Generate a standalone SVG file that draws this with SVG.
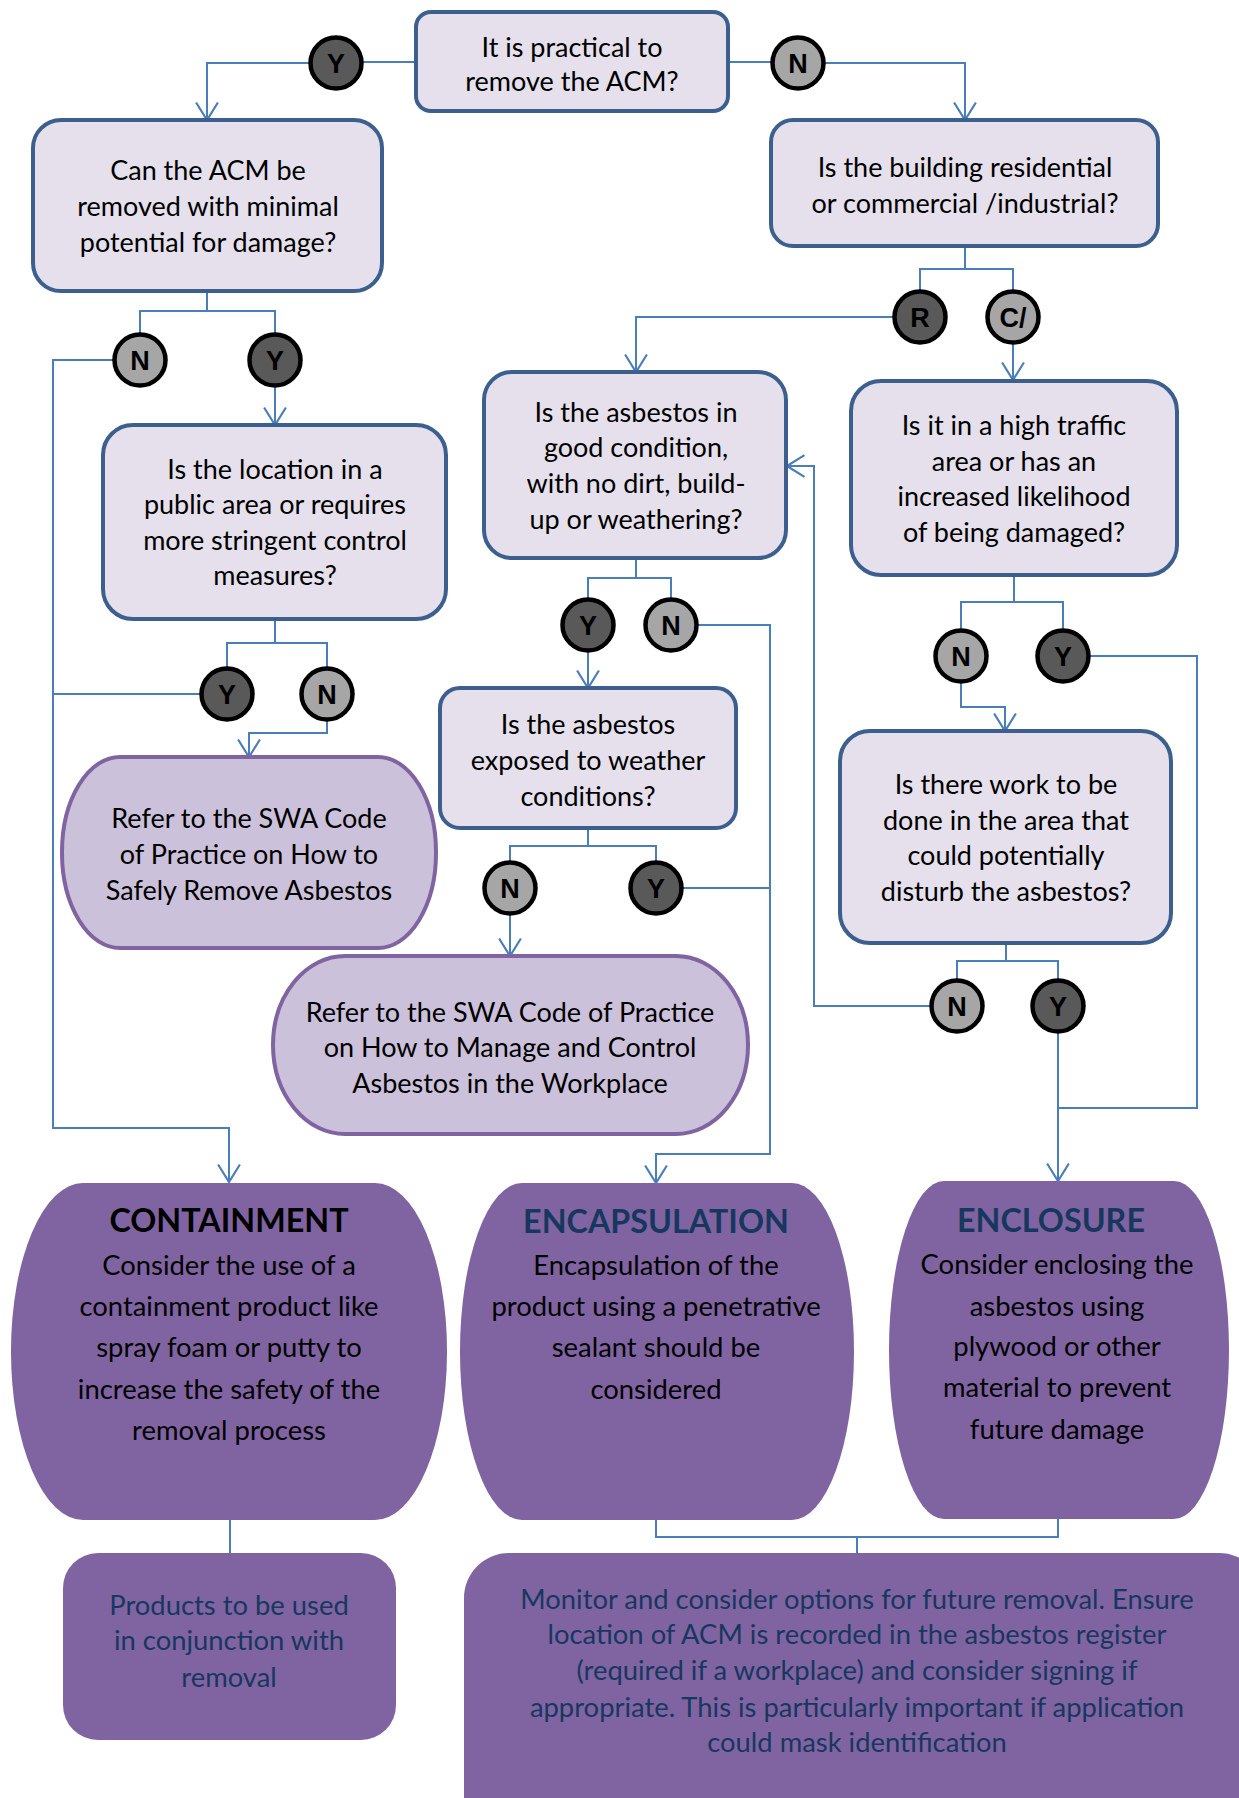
<svg xmlns="http://www.w3.org/2000/svg" width="1239" height="1798" viewBox="0 0 1239 1798">
<style>
.q{fill:#E5E0EC;stroke:#3C5F8E;stroke-width:4}
.ref{fill:#CCC1DA;stroke:#8064A2;stroke-width:4}
.act{fill:#8064A2}
.cy{fill:#595959;stroke:#000;stroke-width:4.5}
.cn{fill:#A6A6A6;stroke:#000;stroke-width:4.5}
.t{font-family:Lato,"Liberation Sans",sans-serif;font-size:27px;text-anchor:middle;fill:#000}
.b{font-family:Lato,"Liberation Sans",sans-serif;font-size:27.4px;text-anchor:middle;fill:#000}
.nv{fill:#17375E}
.h{font-family:Lato,"Liberation Sans",sans-serif;font-size:32.3px;font-weight:bold;text-anchor:middle}
.c{font-family:"Liberation Sans",Arial,sans-serif;font-weight:bold;font-size:27px;text-anchor:middle;fill:#000}
.conn{fill:none;stroke:#4A7EBB;stroke-width:2}
</style>
<defs>
<marker id="arr" markerUnits="userSpaceOnUse" markerWidth="20" markerHeight="24" viewBox="0 0 18 22" refX="17" refY="11" orient="auto">
<path d="M1,1 L17,11 L1,21" fill="none" stroke="#4A7EBB" stroke-width="2"/>
</marker>
</defs>
<rect width="1239" height="1798" fill="#fff"/>

<g id="connectors" class="conn">
<path d="M416,62 H362"/>
<path d="M310,63 H207 V120" marker-end="url(#arr)"/>
<path d="M728,62 H772"/>
<path d="M824,63 H965 V120" marker-end="url(#arr)"/>
<path d="M207,291 V311 M140,334 V311 H275 V334"/>
<path d="M114,360 H53 V1128 H229 V1182" marker-end="url(#arr)"/>
<path d="M275,386 V425" marker-end="url(#arr)"/>
<path d="M965,246 V269 M920,291 V269 H1013 V291"/>
<path d="M894,317 H636 V372" marker-end="url(#arr)"/>
<path d="M1013,343 V380" marker-end="url(#arr)"/>
<path d="M636,558 V578 M588,599 V578 H671 V599"/>
<path d="M697,625 H770 V1154 H656 V1183" marker-end="url(#arr)"/>
<path d="M588,651 V688" marker-end="url(#arr)"/>
<path d="M275,619 V643 M227,668 V643 H327 V668"/>
<path d="M201,694 H53"/>
<path d="M327,720 V733 H249 V757" marker-end="url(#arr)"/>
<path d="M1014,575 V602 M961,630 V602 H1063 V630"/>
<path d="M1089,656 H1197 V1108 H1058"/>
<path d="M961,682 V707 H1005 V731" marker-end="url(#arr)"/>
<path d="M588,828 V846 M510,862 V846 H656 V862"/>
<path d="M682,888 H770"/>
<path d="M510,914 V956" marker-end="url(#arr)"/>
<path d="M1006,943 V961 M957,980 V961 H1058 V980"/>
<path d="M931,1006 H814 V466 H787" marker-end="url(#arr)"/>
<path d="M1058,1032 V1181" marker-end="url(#arr)"/>
<path d="M230,1519 V1555"/>
<path d="M656,1519 V1537 H1058 V1519 M857,1537 V1553"/>
</g>

<g id="q-practical">
<rect class="q" x="416" y="12" width="312" height="99" rx="15"/>
<text class="t" x="572" y="57">It is practical to</text>
<text class="t" x="572" y="91">remove the ACM?</text>
</g>
<g id="q-minimal">
<rect class="q" x="33" y="120" width="349" height="171" rx="28"/>
<text class="t" x="208" y="180">Can the ACM be</text>
<text class="t" x="208" y="216">removed with minimal</text>
<text class="t" x="208" y="252">potential for damage?</text>
</g>
<g id="q-building">
<rect class="q" x="771" y="120" width="387" height="126" rx="22"/>
<text class="t" x="965" y="177">Is the building residential</text>
<text class="t" x="965" y="213">or commercial /industrial?</text>
</g>
<g id="q-condition">
<rect class="q" x="484" y="372" width="302" height="186" rx="28"/>
<text class="t" x="636" y="422">Is the asbestos in</text>
<text class="t" x="636" y="457">good condition,</text>
<text class="t" x="636" y="493">with no dirt, build-</text>
<text class="t" x="636" y="529">up or weathering?</text>
</g>
<g id="q-traffic">
<rect class="q" x="851" y="381" width="326" height="194" rx="30"/>
<text class="t" x="1014" y="435">Is it in a high traffic</text>
<text class="t" x="1014" y="471">area or has an</text>
<text class="t" x="1014" y="506">increased likelihood</text>
<text class="t" x="1014" y="542">of being damaged?</text>
</g>
<g id="q-public">
<rect class="q" x="103" y="425" width="343" height="194" rx="30"/>
<text class="t" x="275" y="479">Is the location in a</text>
<text class="t" x="275" y="514">public area or requires</text>
<text class="t" x="275" y="550">more stringent control</text>
<text class="t" x="275" y="585">measures?</text>
</g>
<g id="q-weather">
<rect class="q" x="440" y="688" width="296" height="140" rx="20"/>
<text class="t" x="588" y="734">Is the asbestos</text>
<text class="t" x="588" y="770">exposed to weather</text>
<text class="t" x="588" y="806">conditions?</text>
</g>
<g id="q-work">
<rect class="q" x="840" y="731" width="331" height="212" rx="30"/>
<text class="t" x="1006" y="794">Is there work to be</text>
<text class="t" x="1006" y="830">done in the area that</text>
<text class="t" x="1006" y="865">could potentially</text>
<text class="t" x="1006" y="901">disturb the asbestos?</text>
</g>
<g id="ref-remove">
<rect class="ref" x="62" y="757" width="374" height="191" rx="58" ry="95"/>
<text class="t" x="249" y="828">Refer to the SWA Code</text>
<text class="t" x="249" y="864">of Practice on How to</text>
<text class="t" x="249" y="900">Safely Remove Asbestos</text>
</g>
<g id="ref-manage">
<rect class="ref" x="273" y="956" width="475" height="178" rx="72" ry="89"/>
<text class="t" x="510" y="1022">Refer to the SWA Code of Practice</text>
<text class="t" x="510" y="1057">on How to Manage and Control</text>
<text class="t" x="510" y="1093">Asbestos in the Workplace</text>
</g>
<g id="containment">
<rect class="act" x="11" y="1183" width="436" height="337" rx="72" ry="168"/>
<text class="h" x="229" y="1232" fill="#000">CONTAINMENT</text>
<text class="b" x="229" y="1275">Consider the use of a</text>
<text class="b" x="229" y="1316">containment product like</text>
<text class="b" x="229" y="1357">spray foam or putty to</text>
<text class="b" x="229" y="1399">increase the safety of the</text>
<text class="b" x="229" y="1440">removal process</text>
</g>
<g id="encapsulation">
<rect class="act" x="460" y="1183" width="394" height="337" rx="62" ry="168"/>
<text class="h" x="656" y="1233" fill="#17375E">ENCAPSULATION</text>
<text class="b" x="656" y="1275">Encapsulation of the</text>
<text class="b" x="656" y="1316">product using a penetrative</text>
<text class="b" x="656" y="1357">sealant should be</text>
<text class="b" x="656" y="1399">considered</text>
</g>
<g id="enclosure">
<rect class="act" x="889" y="1181" width="340" height="338" rx="55" ry="169"/>
<text class="h" x="1051" y="1232" fill="#17375E">ENCLOSURE</text>
<text class="b" x="1057" y="1274">Consider enclosing the</text>
<text class="b" x="1057" y="1316">asbestos using</text>
<text class="b" x="1057" y="1356">plywood or other</text>
<text class="b" x="1057" y="1397">material to prevent</text>
<text class="b" x="1057" y="1439">future damage</text>
</g>
<g id="products">
<rect class="act" x="63" y="1553" width="333" height="187" rx="35"/>
<text class="b nv" x="229" y="1615">Products to be used</text>
<text class="b nv" x="229" y="1650">in conjunction with</text>
<text class="b nv" x="229" y="1687">removal</text>
</g>
<g id="monitor">
<rect class="act" x="464" y="1553" width="800" height="300" rx="45"/>
<text class="b nv" x="857" y="1609">Monitor and consider options for future removal. Ensure</text>
<text class="b nv" x="857" y="1644">location of ACM is recorded in the asbestos register</text>
<text class="b nv" x="857" y="1680">(required if a workplace) and consider signing if</text>
<text class="b nv" x="857" y="1717">appropriate. This is particularly important if application</text>
<text class="b nv" x="857" y="1752">could mask identification</text>
</g>

<g id="c-y1"><circle class="cy" cx="336" cy="63" r="25.5"/><text class="c" x="336" y="73">Y</text></g>
<g id="c-n1"><circle class="cn" cx="798" cy="63" r="25.5"/><text class="c" x="798" y="73">N</text></g>
<g id="c-n2"><circle class="cn" cx="140" cy="360" r="25.5"/><text class="c" x="140" y="370">N</text></g>
<g id="c-y2"><circle class="cy" cx="275" cy="360" r="25.5"/><text class="c" x="275" y="370">Y</text></g>
<g id="c-r"><circle class="cy" cx="920" cy="317" r="25.5"/><text class="c" x="920" y="327">R</text></g>
<g id="c-c"><circle class="cn" cx="1013" cy="317" r="25.5"/><text class="c" x="1013" y="327">C/</text></g>
<g id="c-y3"><circle class="cy" cx="588" cy="625" r="25.5"/><text class="c" x="588" y="635">Y</text></g>
<g id="c-n3"><circle class="cn" cx="671" cy="625" r="25.5"/><text class="c" x="671" y="635">N</text></g>
<g id="c-y4"><circle class="cy" cx="227" cy="694" r="25.5"/><text class="c" x="227" y="704">Y</text></g>
<g id="c-n4"><circle class="cn" cx="327" cy="694" r="25.5"/><text class="c" x="327" y="704">N</text></g>
<g id="c-n5"><circle class="cn" cx="961" cy="656" r="25.5"/><text class="c" x="961" y="666">N</text></g>
<g id="c-y5"><circle class="cy" cx="1063" cy="656" r="25.5"/><text class="c" x="1063" y="666">Y</text></g>
<g id="c-n6"><circle class="cn" cx="510" cy="888" r="25.5"/><text class="c" x="510" y="898">N</text></g>
<g id="c-y6"><circle class="cy" cx="656" cy="888" r="25.5"/><text class="c" x="656" y="898">Y</text></g>
<g id="c-n7"><circle class="cn" cx="957" cy="1006" r="25.5"/><text class="c" x="957" y="1016">N</text></g>
<g id="c-y7"><circle class="cy" cx="1058" cy="1006" r="25.5"/><text class="c" x="1058" y="1016">Y</text></g>
</svg>
